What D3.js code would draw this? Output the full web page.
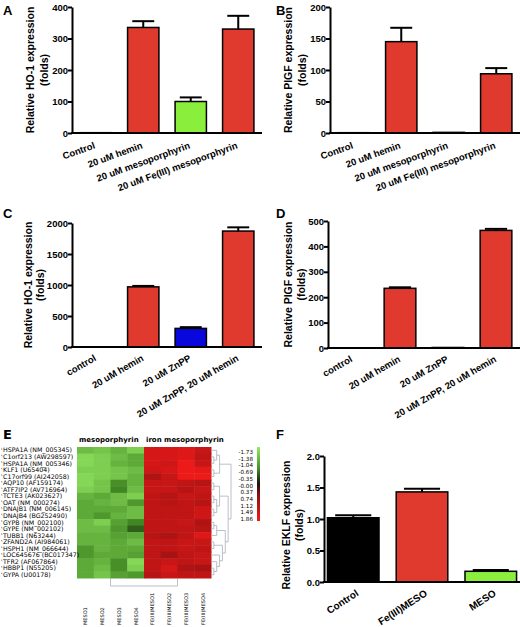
<!DOCTYPE html>
<html lang="en">
    <head>
        <meta charset="utf-8" />
        <title>HO-1 / PlGF / EKLF panels</title>
        <script type="text/javascript" src="https://cdn.jsdelivr.net/npm/d3@7"></script>
        <style type="text/css">
            body { margin: 0; background: #fff; }
            svg { display: block; }
            .chart text { font-family: "Liberation Sans", Arial, sans-serif; font-weight: bold; fill: #000; }
            .heat text { font-family: "DejaVu Sans", sans-serif; fill: #000; }
        </style>
    </head>
    <body>
        <script type="text/javascript">
            // bar chart data
            var catsA = ["Control", "20 uM hemin", "20 uM mesoporphyrin", "20 uM Fe(III) mesoporphyrin"];
            var ho1A = [1, 335, 100, 330];
            var ho1AErr = [0, 20, 13, 42];
            var plgfB = [0.5, 145, 1, 94];
            var plgfBErr = [0, 22, 0, 9];
            var catsC = ["control", "20 uM hemin", "20 uM ZnPP", "20 uM ZnPP, 20 uM hemin"];
            var ho1C = [2, 970, 300, 1870];
            var ho1CErr = [0, 15, 20, 60];
            var plgfD = [0.5, 235, 2, 463];
            var plgfDErr = [0, 4, 0, 6];
            var catsF = ["Control", "Fe(III)MESO", "MESO"];
            var eklfF = [1.02, 1.43, 0.17];
            var eklfFErr = [0.04, 0.05, 0.02];

            var ticksA = [0, 100, 200, 300, 400];
            var ticksB = [0, 50, 100, 150, 200];
            var ticksC = [0, 500, 1000, 1500, 2000];
            var ticksD = [0, 100, 200, 300, 400, 500];
            var ticksF = [0, 0.5, 1.0, 1.5, 2.0];

            // heatmap data
            var genes = ["HSPA1A (NM_005345)", "C1orf213 (AW298597)", "HSPA1A (NM_005346)", "KLF1 (U65404)",
                "C17orf99 (AI242058)", "AQP10 (AF159174)", "ATF7IP2 (AV716964)", "TCTE3 (AK023627)",
                "OAT (NM_000274)", "DNAJB1 (NM_006145)", "DNAJB4 (BG252490)", "GYPB (NM_002100)",
                "GYPE (NM_002102)", "TUBB1 (N63244)", "ZFAND2A (AI984061)", "HSPH1 (NM_066644)",
                "LOC645676 (BC017347)", "TFR2 (AF067864)", "HBBP1 (N55205)", "GYPA (U00178)"];
            var samples = ["MESO1", "MESO2", "MESO3", "MESO4", "FE(III)MESO1", "FE(III)MESO2", "FE(III)MESO3", "FE(III)MESO4"];
            var groups = ["mesoporphyrin", "iron mesoporphyrin"];
            var heat = [
                [-1.2, -1.3, -1.1, -1.4, 1.5, 1.5, 1.6, 1.3],
                [-1.5, -1.4, -1.2, -1.0, 1.5, 1.5, 1.6, 1.2],
                [-1.5, -1.4, -1.1, -1.0, 1.5, 1.4, 1.8, 1.3],
                [-1.4, -1.4, -1.3, -1.2, 1.4, 1.5, 1.8, 1.7],
                [-1.5, -1.4, -1.3, -1.1, 1.0, 1.3, 1.8, 1.8],
                [-1.5, -1.3, -0.7, -1.1, 1.3, 1.3, 1.2, 1.1],
                [-1.4, -1.3, -0.6, -1.2, 1.3, 1.3, 1.1, 1.3],
                [-1.1, -1.0, -1.2, -1.4, 1.2, 1.1, 1.3, 1.2],
                [-1.0, -1.1, -1.2, -0.8, 1.2, 1.1, 1.2, 1.1],
                [-1.0, -1.0, -1.0, -1.2, 1.2, 1.2, 1.2, 1.4],
                [-1.0, -0.8, -1.1, -1.2, 1.2, 1.2, 1.2, 1.4],
                [-1.2, -1.4, -0.9, -0.6, 1.2, 1.2, 1.3, 1.0],
                [-1.2, -1.2, -0.8, -0.4, 1.2, 1.2, 1.2, 1.1],
                [-1.1, -1.1, -0.9, -1.0, 1.1, 1.0, 1.2, 1.6],
                [-1.1, -1.1, -1.0, -1.2, 1.2, 1.2, 1.3, 1.3],
                [-0.8, -1.1, -1.0, -1.0, 1.2, 1.2, 1.3, 1.2],
                [-0.8, -1.0, -1.0, -0.9, 1.2, 0.9, 1.2, 1.3],
                [-1.0, -1.1, -0.7, -1.5, 1.2, 1.3, 1.2, 1.3],
                [-1.0, -1.2, -0.7, -1.4, 1.2, 1.5, 1.0, 0.9],
                [-1.0, -1.3, -0.9, -0.8, 1.1, 1.3, 1.2, 1.2]
            ];
            var legendVals = ["-1.73", "-1.38", "-1.04", "-0.69", "-0.35", "-0.00", "0.37", "0.74", "1.12", "1.49", "1.86"];
            // row clustering (indices into genes)
            var rowTree = [[[0, [1, 2]], [3, 4]], [[[5, 6], [[7, 8], [9, 10]]], [[[11, 12], 13], [[14, 15], [16, [17, [18, 19]]]]]]];

            var red = "#e03a2e";
            var lime = "#8aee3c";
            var blue = "#0808dc";

            var svg = d3.select("body").append("svg").attr("width", 520).attr("height", 627);

            function barPanel(c) {
                var g = svg.append("g").attr("class", "chart");
                var x = d3.scaleBand().domain(c.cats).range([c.x0, c.x1])
                    .paddingInner(c.padIn).paddingOuter(c.padOut);
                var y = d3.scaleLinear().domain([0, c.max]).range([c.y0, c.y1]);

                g.selectAll("rect.bar")
                    .data(c.vals)
                    .enter()
                    .append("rect")
                    .attr("class", "bar")
                    .attr("x", function(d, i) { return x(c.cats[i]); })
                    .attr("y", function(d) { return y(d); })
                    .attr("width", x.bandwidth())
                    .attr("height", function(d) { return y(0) - y(d); })
                    .attr("fill", function(d, i) { return c.colors[i]; })
                    .attr("stroke", "#000")
                    .attr("stroke-width", 1.5);

                // upper error bars only
                c.vals.forEach(function(v, i) {
                    var e = c.errs[i];
                    if (!e) return;
                    var cx = x(c.cats[i]) + x.bandwidth() / 2;
                    var cap = x.bandwidth() * 0.35;
                    g.append("line").attr("x1", cx).attr("x2", cx)
                        .attr("y1", y(v)).attr("y2", y(v + e))
                        .attr("stroke", "#000").attr("stroke-width", 2);
                    g.append("line").attr("x1", cx - cap).attr("x2", cx + cap)
                        .attr("y1", y(v + e)).attr("y2", y(v + e))
                        .attr("stroke", "#000").attr("stroke-width", 2);
                });

                var ax = g.append("g")
                    .attr("transform", "translate(" + c.x0 + ",0)")
                    .call(d3.axisLeft(y).tickValues(c.ticks).tickSize(4).tickSizeOuter(0).tickFormat(c.fmt));
                ax.select(".domain").attr("stroke-width", 2);
                ax.selectAll(".tick line").attr("stroke-width", 2);
                ax.selectAll(".tick text").attr("font-size", "9.5px").attr("x", -4)
                    .attr("font-family", "Liberation Sans, Arial, sans-serif").attr("font-weight", "bold");

                g.append("line")
                    .attr("x1", c.x0 - 1).attr("x2", c.x1)
                    .attr("y1", c.y0).attr("y2", c.y0)
                    .attr("stroke", "#000").attr("stroke-width", 2);

                g.selectAll("text.xlab")
                    .data(c.cats)
                    .enter()
                    .append("text")
                    .attr("class", "xlab")
                    .attr("text-anchor", "end")
                    .attr("font-size", c.labSize)
                    .attr("transform", function(d) {
                        var cx = x(d) + x.bandwidth() / 2 + c.labDx;
                        return "translate(" + cx + "," + (c.y0 + c.labDy) + ") rotate(" + c.angle + ")";
                    })
                    .text(function(d) { return d; });

                var my = (c.y0 + c.y1) / 2 + c.tdy;
                g.append("text").attr("font-size", "10.5px").attr("text-anchor", "middle")
                    .attr("transform", "translate(" + c.tx1 + "," + my + ") rotate(-90)")
                    .text(c.title);
                g.append("text").attr("font-size", "10.5px").attr("text-anchor", "middle")
                    .attr("transform", "translate(" + c.tx2 + "," + my + ") rotate(-90)")
                    .text("(folds)");

                g.append("text").attr("x", c.lx).attr("y", c.ly)
                    .attr("font-size", "13px").text(c.letter);
            }

            var fmtInt = d3.format("d");
            var fmt1 = d3.format(".1f");

            barPanel({ letter: "A", lx: 3, ly: 15, cats: catsA, vals: ho1A, errs: ho1AErr,
                colors: [red, red, lime, red], x0: 72, x1: 262, y0: 133, y1: 7, max: 400, ticks: ticksA,
                fmt: fmtInt, padIn: 0.34, padOut: 0.17, angle: -20, labDx: 0, labDy: 15, labSize: "9.5px",
                title: "Relative HO-1 expression", tx1: 34, tx2: 48, tdy: 0 });
            barPanel({ letter: "B", lx: 276, ly: 15, cats: catsA, vals: plgfB, errs: plgfBErr,
                colors: [red, red, red, red], x0: 330, x1: 520, y0: 133, y1: 7, max: 200, ticks: ticksB,
                fmt: fmtInt, padIn: 0.34, padOut: 0.17, angle: -20, labDx: 0, labDy: 15, labSize: "9.5px",
                title: "Relative PlGF expression", tx1: 292, tx2: 306, tdy: 0 });
            barPanel({ letter: "C", lx: 3, ly: 218, cats: catsC, vals: ho1C, errs: ho1CErr,
                colors: [red, red, blue, red], x0: 72, x1: 262, y0: 347, y1: 223, max: 2000, ticks: ticksC,
                fmt: fmtInt, padIn: 0.34, padOut: 0.17, angle: -30, labDx: 1, labDy: 13, labSize: "9.5px",
                title: "Relative HO-1 expression", tx1: 32, tx2: 44, tdy: 0 });
            barPanel({ letter: "D", lx: 276, ly: 218, cats: catsC, vals: plgfD, errs: plgfDErr,
                colors: [red, red, red, red], x0: 328, x1: 520, y0: 348, y1: 221, max: 500, ticks: ticksD,
                fmt: fmtInt, padIn: 0.34, padOut: 0.17, angle: -30, labDx: 1, labDy: 13, labSize: "9.5px",
                title: "Relative PlGF expression", tx1: 292, tx2: 305, tdy: 0 });
            barPanel({ letter: "F", lx: 276, ly: 439, cats: catsF, vals: eklfF, errs: eklfFErr,
                colors: ["#000", red, lime], x0: 324, x1: 520, y0: 582, y1: 456, max: 2.0, ticks: ticksF,
                fmt: fmt1, padIn: 0.25, padOut: 0.05, angle: -33, labDx: 6, labDy: 13, labSize: "10px",
                title: "Relative EKLF expression", tx1: 290, tx2: 303, tdy: 6 });

            // ---- heatmap (E) ----
            var hg = svg.append("g").attr("class", "heat");
            var hx = d3.scaleBand().domain(d3.range(samples.length)).range([77, 211]);
            var hy = d3.scaleBand().domain(d3.range(genes.length)).range([447, 578]);
            var color = d3.scaleLinear()
                .domain([-1.73, -0.6, 0, 0.6, 1.86])
                .range(["#96ec64", "#408622", "#101010", "#901010", "#f21a1a"]);

            heat.forEach(function(row, r) {
                hg.selectAll(null)
                    .data(row)
                    .enter()
                    .append("rect")
                    .attr("x", function(d, i) { return hx(i); })
                    .attr("y", hy(r))
                    .attr("width", hx.bandwidth() + 0.5)
                    .attr("height", hy.bandwidth() + 0.5)
                    .attr("fill", function(d) { return color(d); });
            });

            hg.selectAll("text.gene")
                .data(genes)
                .enter()
                .append("text")
                .attr("class", "gene")
                .attr("x", 3)
                .attr("y", function(d, i) { return hy(i) + hy.bandwidth() / 2 + 2.2; })
                .attr("font-size", "6.3px")
                .text(function(d) { return d; });
            hg.selectAll("line.gtick")
                .data(genes)
                .enter()
                .append("line")
                .attr("x1", 1.5).attr("x2", 2)
                .attr("y1", function(d, i) { return hy(i) + hy.bandwidth() / 2 - 2; })
                .attr("y2", function(d, i) { return hy(i) + hy.bandwidth() / 2 - 0.5; })
                .attr("stroke", "#444").attr("stroke-width", 0.6);

            hg.selectAll("text.sample")
                .data(samples)
                .enter()
                .append("text")
                .attr("class", "sample")
                .attr("text-anchor", "start")
                .attr("font-size", "5px")
                .attr("transform", function(d, i) {
                    return "translate(" + (hx(i) + hx.bandwidth() / 2 + 2) + ",625) rotate(-90)";
                })
                .text(function(d) { return d; });

            // group titles
            hg.selectAll("text.grp")
                .data(groups)
                .enter()
                .append("text")
                .attr("class", "grp")
                .attr("x", function(d, i) { return hx(i * 4) + 2; })
                .attr("y", 442)
                .attr("font-size", "7px")
                .attr("font-weight", "bold")
                .text(function(d) { return d; });

            hg.append("text").attr("x", 3).attr("y", 439)
                .attr("font-family", "Liberation Sans, Arial, sans-serif")
                .attr("font-weight", "bold").attr("font-size", "13px").text("E");

            // column dendrogram: the two sample groups
            var gx = [0, 1].map(function(k) {
                return d3.mean(d3.range(k * 4, k * 4 + 4), function(i) { return hx(i) + hx.bandwidth() / 2; });
            });
            hg.append("path")
                .attr("d", "M" + gx[0] + ",578V586H" + gx[1] + "V578")
                .attr("fill", "none").attr("stroke", "#a8aebb").attr("stroke-width", 0.8);

            // row dendrogram
            var root = d3.hierarchy(rowTree, function(d) { return Array.isArray(d) ? d : null; });
            var dx = d3.scaleLinear().domain([0, root.height]).range([211, 231]);
            root.eachAfter(function(n) {
                if (!n.children) {
                    n.py = hy(n.data) + hy.bandwidth() / 2;
                } else {
                    n.py = d3.mean(n.children, function(ch) { return ch.py; });
                }
                n.px = dx(n.height);
            });
            root.each(function(n) {
                if (!n.children) return;
                var ys = n.children.map(function(ch) { return ch.py; });
                hg.append("line").attr("x1", n.px).attr("x2", n.px)
                    .attr("y1", d3.min(ys)).attr("y2", d3.max(ys))
                    .attr("stroke", "#a8aebb").attr("stroke-width", 0.8);
                n.children.forEach(function(ch) {
                    hg.append("line").attr("x1", ch.px).attr("x2", n.px)
                        .attr("y1", ch.py).attr("y2", ch.py)
                        .attr("stroke", "#a8aebb").attr("stroke-width", 0.8);
                });
            });

            // colour key
            var defs = svg.append("defs");
            var grad = defs.append("linearGradient").attr("id", "key")
                .attr("x1", 0).attr("x2", 0).attr("y1", 0).attr("y2", 1);
            d3.range(0, 1.0001, 0.1).forEach(function(t) {
                grad.append("stop").attr("offset", t)
                    .attr("stop-color", color(-1.73 + t * (1.86 + 1.73)));
            });
            hg.append("rect").attr("x", 257).attr("y", 447).attr("width", 3).attr("height", 74)
                .attr("fill", "url(#key)");
            var ky = d3.scalePoint().domain(legendVals).range([452, 519]);
            hg.selectAll("text.key")
                .data(legendVals)
                .enter()
                .append("text")
                .attr("class", "key")
                .attr("x", 253)
                .attr("y", function(d) { return ky(d) + 2; })
                .attr("text-anchor", "end")
                .attr("font-size", "5.6px")
                .text(function(d) { return d; });
        </script>
    </body>
</html>
